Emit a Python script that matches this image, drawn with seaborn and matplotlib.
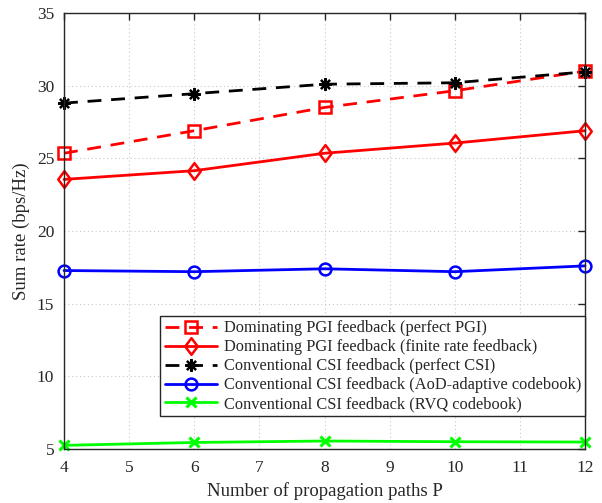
import matplotlib
matplotlib.use("Agg")
import matplotlib.pyplot as plt
from matplotlib.path import Path
import seaborn as sns
import pandas as pd

paths = [4, 6, 8, 10, 12]
pgi_perfect = [25.35, 26.9, 28.5, 29.65, 31.0]
pgi_finite = [23.55, 24.15, 25.35, 26.05, 26.9]
csi_perfect = [28.8, 29.45, 30.1, 30.2, 30.95]
csi_aod = [17.28, 17.2, 17.4, 17.2, 17.6]
csi_rvq = [5.25, 5.45, 5.55, 5.5, 5.48]

labels = [
    "Dominating PGI feedback (perfect PGI)",
    "Dominating PGI feedback (finite rate feedback)",
    "Conventional CSI feedback (perfect CSI)",
    "Conventional CSI feedback (AoD-adaptive codebook)",
    "Conventional CSI feedback (RVQ codebook)",
]
series = [pgi_perfect, pgi_finite, csi_perfect, csi_aod, csi_rvq]

sns.set_theme(style="white")
plt.rcParams["font.family"] = ["Liberation Serif", "DejaVu Serif"]
plt.rcParams["mathtext.fontset"] = "stix"

diamond = Path([(0, 1), (0.75, 0), (0, -1), (-0.75, 0), (0, 1)],
               [Path.MOVETO, Path.LINETO, Path.LINETO, Path.LINETO, Path.CLOSEPOLY])

colors = ["#ff0000", "#ff0000", "#000000", "#0000ff", "#00ff00"]
styles = [
    dict(linestyle=(0, (5, 3.5)), marker="s", markersize=8, markerfacecolor="none", markeredgewidth=1.8),
    dict(linestyle="-", marker=diamond, markersize=12, markerfacecolor="none", markeredgewidth=1.8),
    dict(linestyle=(0, (5, 3.5)), marker=(8, 2, 0), markersize=9, markeredgewidth=1.6),
    dict(linestyle="-", marker="o", markersize=8.5, markerfacecolor="none", markeredgewidth=1.8),
    dict(linestyle="-", marker="x", markersize=7, markeredgewidth=2.2),
]

fig = plt.figure(figsize=(6.02, 5.03), dpi=100)
ax = fig.add_axes([64 / 602, 1 - 449 / 503, (585 - 64) / 602, (449 - 13) / 503])

handles = []
for vals, lab, col, st in zip(series, labels, colors, styles):
    df = pd.DataFrame({"P": paths, "rate": vals})
    n0 = len(ax.lines)
    sns.lineplot(data=df, x="P", y="rate", ax=ax, color=col, linewidth=2, legend=False)
    ln = ax.lines[n0]
    ln.set_linestyle(st["linestyle"])
    ln.set_marker(st["marker"])
    ln.set_markersize(st["markersize"])
    ln.set_markeredgewidth(st["markeredgewidth"])
    ln.set_markeredgecolor(col)
    ln.set_markerfacecolor(st.get("markerfacecolor", col))
    ln.set_clip_on(False)
    ln.set_label(lab)
    handles.append(ln)

ax.set_xlim(4, 12)
ax.set_ylim(5, 35)
ax.set_xticks(range(4, 13))
ax.set_yticks(range(5, 36, 5))
ax.grid(True, color="#c8c8c8", linestyle=(0, (1, 2.5)), linewidth=0.8)
for s in ax.spines.values():
    s.set_color("#262626")
    s.set_linewidth(1.0)
ax.tick_params(direction="in", top=True, right=True, length=5, width=1, labelsize=12.5, colors="#262626")
ax.tick_params(axis="x", pad=8)
ax.tick_params(axis="y", pad=7)
ax.set_xlabel("Number of propagation paths P", fontsize=13.5, color="#262626", labelpad=4)
ax.set_ylabel("Sum rate (bps/Hz)", fontsize=13.5, color="#262626", labelpad=5)

leg = ax.legend(handles=handles, loc="lower right", bbox_to_anchor=(1.0, 0.075), fontsize=11.8, frameon=True,
                fancybox=False, edgecolor="#262626", framealpha=1, handlelength=3.2, borderpad=0.25,
                labelspacing=0.18, handletextpad=0.4, borderaxespad=0.0)
leg.get_frame().set_linewidth(1.0)

fig.savefig("out.png", dpi=100)
